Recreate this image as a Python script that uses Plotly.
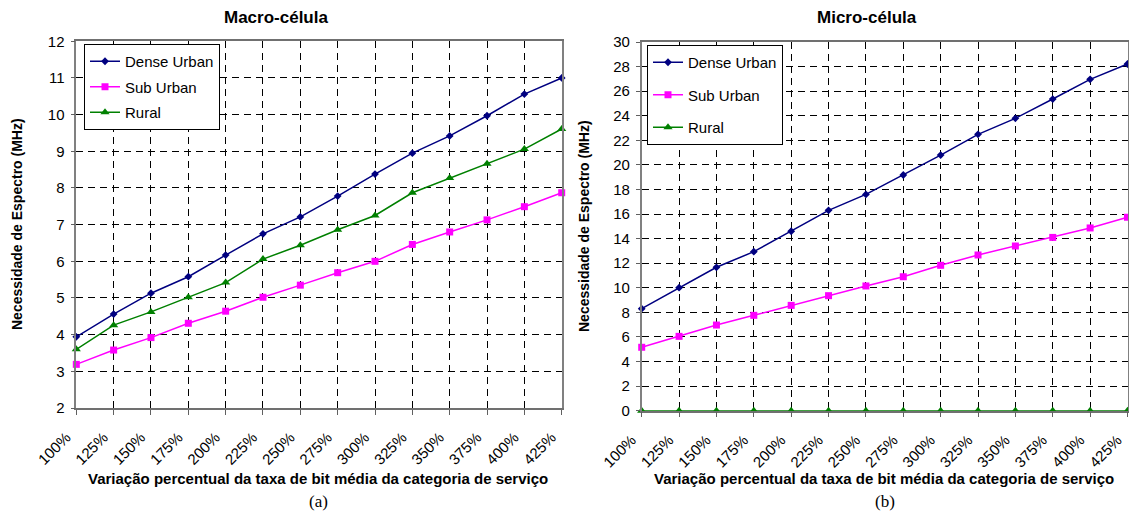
import plotly.graph_objects as go

W, H = 1129, 513

categorias = ["100%", "125%", "150%", "175%", "200%", "225%", "250%",
              "275%", "300%", "325%", "350%", "375%", "400%", "425%"]

# Macro-célula (MHz)
macro_dense = [3.94, 4.56, 5.13, 5.58, 6.17, 6.75, 7.21, 7.78, 8.38, 8.95, 9.42, 9.97, 10.56, 11.00]
macro_sub = [3.19, 3.58, 3.92, 4.31, 4.64, 5.02, 5.35, 5.69, 6.00, 6.46, 6.80, 7.13, 7.49, 7.87]
macro_rural = [3.60, 4.26, 4.62, 5.02, 5.42, 6.06, 6.44, 6.86, 7.25, 7.87, 8.27, 8.66, 9.06, 9.61]

# Micro-célula (MHz)
micro_dense = [8.30, 10.01, 11.67, 12.94, 14.60, 16.30, 17.60, 19.18, 20.80, 22.49, 23.79, 25.36, 26.96, 28.21]
micro_sub = [5.16, 6.05, 6.97, 7.76, 8.57, 9.36, 10.15, 10.90, 11.83, 12.67, 13.40, 14.10, 14.87, 15.74]
micro_rural = [0, 0, 0, 0, 0, 0, 0, 0, 0, 0, 0, 0, 0, 0]

series_nomes = ["Dense Urban", "Sub Urban", "Rural"]
cores = ["#000080", "#FF00FF", "#008000"]
simbolos = ["diamond", "square", "triangle-up"]
tamanhos = [6, 7, 8]

SANS = "Liberation Sans, Arial, sans-serif"


def px_x(v):
    return v / W


def px_y(v):
    return 1 - v / H


fig = go.Figure()

for painel, dados, leg in [("", [macro_dense, macro_sub, macro_rural], "legend"),
                           ("2", [micro_dense, micro_sub, micro_rural], "legend2")]:
    for nome, ys, cor, sim, tam in zip(series_nomes, dados, cores, simbolos, tamanhos):
        fig.add_trace(go.Scatter(
            x=categorias, y=ys, name=nome, mode="lines+markers",
            line=dict(color=cor, width=1.5),
            marker=dict(symbol=sim, size=tam, color=cor),
            xaxis="x" + painel, yaxis="y" + painel,
            legend=leg, legendgroup=painel + nome,
            cliponaxis=False,
        ))

grid = dict(showgrid=True, gridcolor="#000000", gridwidth=1, griddash="7px,5px")

eixo_x = dict(
    type="category", range=[0, 13], ticks="outside", ticklen=5, tickcolor="#606060",
    tickangle=-45, tickfont=dict(family=SANS, size=15, color="#000"),
    ticklabelstandoff=8, ticklabelshift=-10,
    showline=True, linecolor="#707070", linewidth=1.5, mirror=True,
    zeroline=False, automargin=False, **grid,
)
eixo_y = dict(
    ticks="outside", ticklen=4, tickcolor="#606060",
    tickfont=dict(family=SANS, size=15, color="#000"),
    ticklabelstandoff=3,
    showline=True, linecolor="#808080", linewidth=1.5, mirror=True,
    zeroline=False, automargin=False, **grid,
)

fig.update_layout(
    width=W, height=H,
    margin=dict(l=0, r=0, t=0, b=0),
    paper_bgcolor="white", plot_bgcolor="white",
    xaxis=dict(domain=[px_x(76.3), px_x(561.7)], anchor="y", **eixo_x),
    yaxis=dict(domain=[px_y(408), px_y(41.3)], anchor="x", range=[2, 12], dtick=1, **eixo_y),
    xaxis2=dict(domain=[px_x(641.7), px_x(1127.5)], anchor="y2", **eixo_x),
    yaxis2=dict(domain=[px_y(410.7), px_y(42)], anchor="x2", range=[0, 30], dtick=2, **eixo_y),
    legend=dict(
        x=px_x(84), y=px_y(44), xanchor="left", yanchor="top",
        bgcolor="white", bordercolor="#000", borderwidth=1,
        font=dict(family=SANS, size=15, color="#000"),
        tracegroupgap=3, itemwidth=30, entrywidth=112,
    ),
    legend2=dict(
        x=px_x(647), y=px_y(45), xanchor="left", yanchor="top",
        bgcolor="white", bordercolor="#000", borderwidth=1,
        font=dict(family=SANS, size=15, color="#000"),
        tracegroupgap=10, itemwidth=30, entrywidth=112,
    ),
    showlegend=True,
)

anot = []
bold = dict(family=SANS, color="#000")
anot.append(dict(text="<b>Macro-célula</b>", x=px_x(276), y=px_y(17), font=dict(size=17, **bold)))
anot.append(dict(text="<b>Micro-célula</b>", x=px_x(867), y=px_y(17), font=dict(size=17, **bold)))
anot.append(dict(text="<b>Necessidade de Espectro (MHz)</b>", x=px_x(17), y=px_y(224),
                 textangle=-90, font=dict(size=14, **bold)))
anot.append(dict(text="<b>Necessidade de Espectro (MHz)</b>", x=px_x(584), y=px_y(226),
                 textangle=-90, font=dict(size=14, **bold)))
titulo_x = "<b>Variação percentual da taxa de bit média da categoria de serviço</b>"
anot.append(dict(text=titulo_x, x=px_x(318), y=px_y(478), font=dict(size=15, **bold)))
anot.append(dict(text=titulo_x, x=px_x(884), y=px_y(478), font=dict(size=15, **bold)))
serif = dict(family="Liberation Serif, Times New Roman, serif", size=17, color="#000")
anot.append(dict(text="(a)", x=px_x(318), y=px_y(501), font=serif))
anot.append(dict(text="(b)", x=px_x(885), y=px_y(501), font=serif))

for a in anot:
    a.update(xref="paper", yref="paper", xanchor="center", yanchor="middle", showarrow=False)
fig.update_layout(annotations=anot)

fig.write_html("out.html")
